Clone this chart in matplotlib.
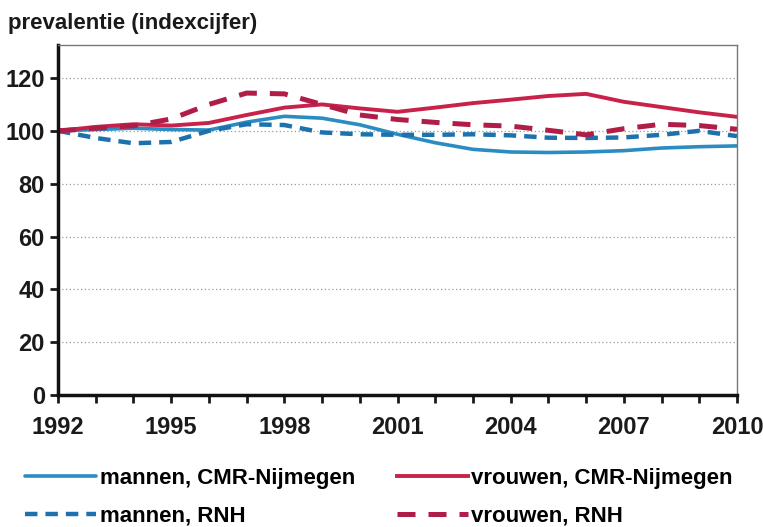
import matplotlib
matplotlib.use("Agg")
import matplotlib.pyplot as plt

plt.rcParams["font.family"] = ["Liberation Sans", "DejaVu Sans"]
plt.rcParams["font.weight"] = "bold"

# 指数（1992 = 100），按年份读图
years = list(range(1992, 2011))
mannen_cmr = [100, 100.5, 101, 100.5, 100.3, 103.3, 105.5, 104.8, 102.3, 98.7,
              95.5, 93, 92, 91.8, 92, 92.5, 93.5, 94, 94.3]
mannen_rnh = [100, 97.3, 95.3, 95.8, 100, 102.5, 102.2, 99.4, 98.7, 98.5,
              98.5, 98.7, 98.3, 97.4, 97.3, 97.5, 98.5, 100, 98]
vrouwen_cmr = [100, 101.5, 102.5, 102, 103, 106, 108.8, 110, 108.5, 107.2,
               108.8, 110.5, 111.8, 113.2, 114, 111, 109, 107, 105.3]
vrouwen_rnh = [100, 101, 101.9, 104.5, 110, 114.3, 114, 110, 106, 104.3,
               103.2, 102.3, 101.8, 100.2, 98.5, 100.8, 102.5, 102, 100.6]
xlabels = [1992, 1995, 1998, 2001, 2004, 2007, 2010]
yticks = [0, 20, 40, 60, 80, 100, 120]

fig = plt.figure(figsize=(7.63, 5.27), dpi=100)
ax = fig.add_axes([58 / 763, 132 / 527, 679 / 763, 350 / 527])

l1, = ax.plot(years, mannen_cmr, color="#2b8cc2", lw=2.6, solid_capstyle="round",
              label="mannen, CMR-Nijmegen")
l2, = ax.plot(years, mannen_rnh, color="#1d72ae", lw=3.2, dashes=(2.8, 1.8),
              label="mannen, RNH")
l3, = ax.plot(years, vrouwen_cmr, color="#c8224a", lw=2.8, label="vrouwen, CMR-Nijmegen")
l4, = ax.plot(years, vrouwen_rnh, color="#b01e48", lw=3.6, dashes=(3.6, 2.6),
              label="vrouwen, RNH")

ax.set_xlim(1992, 2010)
ax.set_ylim(0, 132.5)
ax.set_yticks(yticks)
ax.set_xticks(xlabels)
ax.set_xticks(years, minor=True)
ax.tick_params(axis="both", which="both", direction="out", length=6, width=2,
               labelsize=17, colors="#1a1a1a")
ax.tick_params(axis="x", pad=9)
for lab in ax.get_xticklabels() + ax.get_yticklabels():
    lab.set_fontweight("bold")

ax.yaxis.grid(True, linestyle=(0, (1, 2)), color="#9a9a9a", lw=0.9)
ax.set_axisbelow(True)
for s in ["left", "bottom"]:
    ax.spines[s].set_linewidth(2.5)
    ax.spines[s].set_color("#111111")
for s in ["top", "right"]:
    ax.spines[s].set_linewidth(1.0)
    ax.spines[s].set_color("#777777")

fig.text(8 / 763, 1 - 23 / 527, "prevalentie (indexcijfer)", fontsize=16,
         fontweight="bold", va="center", ha="left", color="#1a1a1a")

fig.legend(handles=[l1, l2, l3, l4], ncol=2, loc="upper left",
           bbox_to_anchor=(14 / 763, 1 - 457 / 527), frameon=False,
           fontsize=16, handlelength=3.2, handletextpad=0.15, columnspacing=1.9,
           labelspacing=0.75, borderpad=0)

fig.savefig("out.png", dpi=100)
